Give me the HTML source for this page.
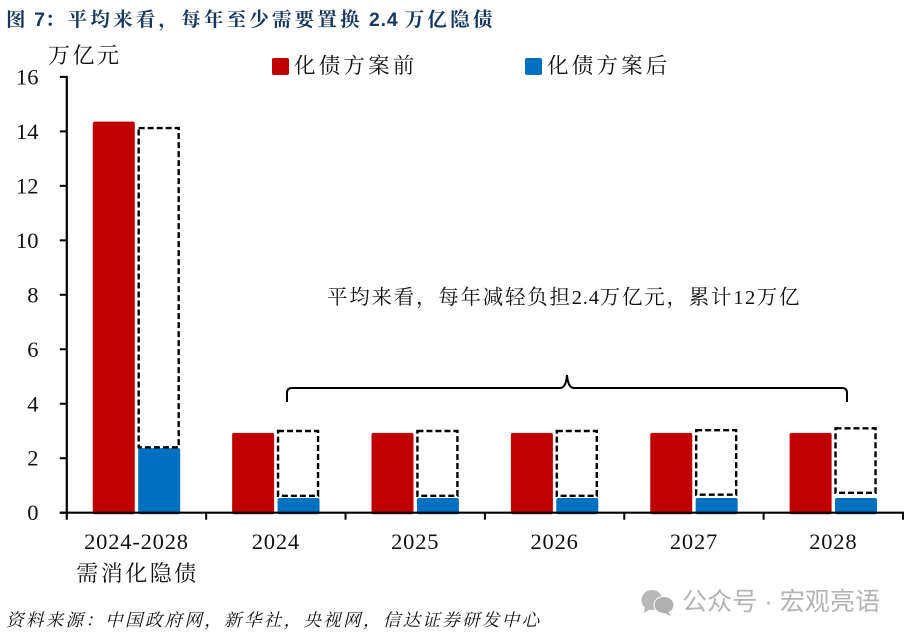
<!DOCTYPE html>
<html lang="zh">
<head>
<meta charset="utf-8">
<title>每年至少需要置换 2.4 万亿隐债</title>
<style>
html,body{margin:0;padding:0;background:#fff;}
svg{display:block;}
.cjk{font-family:"Liberation Serif","Noto Serif CJK SC",serif;}
</style>
</head>
<body>
<svg id="chart" xmlns="http://www.w3.org/2000/svg" width="909" height="637" viewBox="0 0 909 637">
  <text font-family="'Liberation Sans','Noto Serif CJK SC',serif" x="6" y="26" font-size="19.5" font-weight="700" fill="#17375e" letter-spacing="3.2">图<tspan letter-spacing="0"> 7</tspan>：平均来看，每年至少需要置换<tspan letter-spacing="0.8"> 2.4 </tspan>万亿隐债</text>
  <text class="cjk" x="48" y="63" font-size="22" letter-spacing="2.5" fill="#111">万亿元</text>

  <rect x="272" y="58" width="17" height="17" rx="2" fill="#c00000"/>
  <text class="cjk" x="294" y="73" font-size="21.5" letter-spacing="3.2" fill="#111">化债方案前</text>
  <rect x="525" y="58" width="17" height="17" rx="2" fill="#0070c0"/>
  <text class="cjk" x="547" y="73" font-size="21.5" letter-spacing="3.2" fill="#111">化债方案后</text>

  <g id="marks"></g>
  <g id="axes"></g>

  <text class="cjk" x="327" y="304" font-size="20.5" fill="#111" letter-spacing="1.75">平均来看，每年减轻负担<tspan letter-spacing="0.8" font-size="20.5">2.4</tspan>万亿元，累计<tspan letter-spacing="1.5" font-size="20.5">12</tspan>万亿</text>
  <path d="M287 402 V393 Q287 388 292 388 H560 Q566 388 567 375 Q568 388 574 388 H842 Q847 388 847 393 V402" fill="none" stroke="#000" stroke-width="2"/>

  <text class="cjk" x="6" y="626" font-size="17.5" font-style="italic" fill="#111" letter-spacing="2.33">资料来源：中国政府网，新华社，央视网，信达证券研发中心</text>

  <g>
    <ellipse cx="652" cy="600" rx="10.5" ry="10" fill="#b8b8b8"/>
    <path d="M645 606 L644 613 L652 608 Z" fill="#b8b8b8"/>
    <ellipse cx="664" cy="605" rx="10" ry="8.5" fill="#b0b0b0" stroke="#fff" stroke-width="1"/>
    <path d="M668 611 L671 616 L662 612 Z" fill="#b0b0b0"/>
    <text x="682" y="610" font-family="'Liberation Sans','Noto Sans CJK SC',sans-serif" font-size="25" fill="#b4b4b4" letter-spacing="0.1">公众号 · 宏观亮语</text>
  </g>
</svg>
<script>
const categories = ["2024-2028", "2024", "2025", "2026", "2027", "2028"];
const beforeValues = [14.36, 2.93, 2.93, 2.93, 2.93, 2.93];
const afterValues = [2.37, 0.54, 0.54, 0.54, 0.54, 0.54];
const reliefTopValues = [14.12, 3.0, 3.0, 3.0, 3.03, 3.1];
const reliefBottomValues = [2.4, 0.62, 0.62, 0.62, 0.66, 0.73];
const yTicks = [0, 2, 4, 6, 8, 10, 12, 14, 16];
const firstCategorySubLabel = "需消化隐债";

const NS = "http://www.w3.org/2000/svg";
const plotLeft = 66.8, plotRight = 903, plotBase = 512.7, plotTop = 76.9, yMax = 16;
const band = (plotRight - plotLeft) / categories.length;
const barW = 42, barGap = 3.4, barBottomOverhang = 1.5;
const yScale = v => plotBase - v / yMax * (plotBase - plotTop);
const xCenter = i => plotLeft + band * (i + 0.5);
const xBefore = i => xCenter(i) - barGap / 2 - barW;
const xAfter = i => xCenter(i) + barGap / 2;

function make(tag, attrs, parent) {
  const el = document.createElementNS(NS, tag);
  for (const k in attrs) el.setAttribute(k, attrs[k]);
  parent.appendChild(el);
  return el;
}
const marks = document.getElementById("marks");
const axes = document.getElementById("axes");

categories.forEach((c, i) => {
  const r = make("rect", {x: xBefore(i), y: yScale(beforeValues[i]), width: barW, height: plotBase + barBottomOverhang - yScale(beforeValues[i]), rx: 2, fill: "#c00000"}, marks);
  
  
  const b = make("rect", {x: xAfter(i), y: yScale(afterValues[i]), width: barW, height: plotBase + barBottomOverhang - yScale(afterValues[i]), rx: 2, fill: "#0070c0"}, marks);
  
  
  const d = make("rect", {x: xAfter(i) + 0.5, y: yScale(reliefTopValues[i]), width: barW - 2, height: yScale(reliefBottomValues[i]) - yScale(reliefTopValues[i]), fill: "none", stroke: "#000", "stroke-width": 2.4, "stroke-dasharray": "6 3"}, marks);
  
  
});

const yLine = make("line", {x1: plotLeft, x2: plotLeft, y1: plotTop - 1, y2: plotBase + 7, stroke: "#000", "stroke-width": 2.2}, axes);


const xLine = make("line", {x1: plotLeft - 7, x2: plotRight + 1, y1: plotBase, y2: plotBase, stroke: "#000", "stroke-width": 2.2}, axes);



yTicks.forEach(t => {
  const m = make("line", {x1: plotLeft - 7, x2: plotLeft, y1: yScale(t), y2: yScale(t), stroke: "#000", "stroke-width": 2}, axes);
  
  
  const l = make("text", {x: 38.5, y: yScale(t) + 7.5, "text-anchor": "end", "font-size": 22.5, fill: "#111", "font-family": "'Liberation Serif',serif"}, axes);
  l.textContent = t;
  
  
});

categories.forEach((c, i) => {
  const xr = plotLeft + band * (i + 1);
  const m = make("line", {x1: xr, x2: xr, y1: plotBase, y2: plotBase + 7, stroke: "#000", "stroke-width": 2}, axes);
  
  
  const l = make("text", {x: xCenter(i), y: 549, "text-anchor": "middle", "font-size": 22.5, "letter-spacing": 0.8, fill: "#111", "font-family": "'Liberation Serif',serif"}, axes);
  l.textContent = c;
  
  
});

const sub = make("text", {x: xCenter(0) + 1, y: 581, "text-anchor": "middle", "font-size": 22, "letter-spacing": 2.5, fill: "#111", "font-family": "'Liberation Serif','Noto Serif CJK SC',serif"}, axes);
sub.textContent = firstCategorySubLabel;


</script>
</body>
</html>
